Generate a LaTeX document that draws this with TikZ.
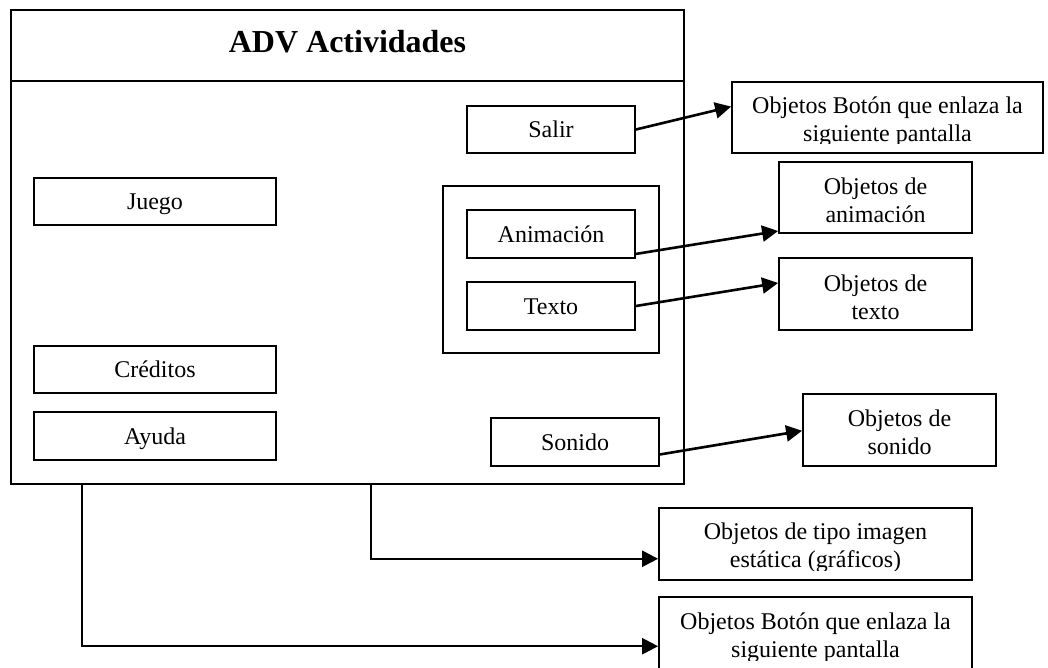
\documentclass[tikz,border=0pt]{standalone}
\usepackage{fontspec}
\setmainfont{Liberation Serif}
\usetikzlibrary{arrows.meta,calc}
\newcommand\boxfont{\fontsize{24pt}{27.6pt}\selectfont}
\newcommand\headfont{\fontsize{32pt}{36pt}\selectfont\bfseries}

\begin{document}
\begin{tikzpicture}[x=1pt,y=-1pt,
  frame/.style={draw, line width=1.8pt, inner sep=0pt},
  item/.style={frame, font=\boxfont, text height=16pt, text depth=0pt},
  lbl/.style={font=\boxfont, align=center, inner sep=0pt},
  link/.style={line width=2.6pt, -{Triangle[length=16pt,width=16pt]}},
  elbow/.style={line width=2.3pt, -{Triangle[length=16pt,width=16pt]}},
]
\useasboundingbox (0,0) rectangle (1048,667);

% screen with its title band
\node[frame, minimum width=673pt, minimum height=474pt] (screen) at (347.5,247) {};
\coordinate (band) at (0,81);
\draw[line width=1.8pt] (screen.west |- band) -- (screen.east |- band);
\node[font=\headfont, anchor=base, inner sep=0pt] (title) at (347.5,52) {ADV Actividades};

% elements on the screen
\node[item, minimum width=168pt, minimum height=47pt] (salir) at (551,129.5) {Salir};
\node[item, minimum width=242pt, minimum height=47pt] (juego) at (155,201.5) {Juego};
\node[item, minimum width=242pt, minimum height=47pt] (creditos) at (155,369.5) {Créditos};
\node[item, minimum width=242pt, minimum height=48pt] (ayuda) at (155,436) {Ayuda};
\node[frame, minimum width=216pt, minimum height=167pt] (grupo) at (551,269.5) {};
\node[item, minimum width=168pt, minimum height=48pt] (animacion) at (551,234) {Animación};
\node[item, minimum width=168pt, minimum height=48pt] (texto) at (551,306) {Texto};
\node[item, minimum width=168pt, minimum height=48pt] (sonido) at (575,442) {Sonido};

% object descriptions
\node[frame, minimum width=311pt, minimum height=71pt] (botonA) at (887.5,117.5) {};
\node[frame, minimum width=193pt, minimum height=71pt] (objAnim) at (875.5,197.5) {};
\node[frame, minimum width=193pt, minimum height=72pt] (objTexto) at (875.5,294) {};
\node[frame, minimum width=193pt, minimum height=72pt] (objSonido) at (899.5,430) {};
\node[frame, minimum width=313pt, minimum height=72pt] (objImagen) at (815.5,544) {};
\node[frame, minimum width=313pt, minimum height=73pt] (botonB) at (815.5,633.5) {};

\begin{scope}
  \clip (botonA.north west) rectangle ([yshift=10pt]botonA.south east);
  \node[lbl] (botonAtext) at ([yshift=-4pt]botonA.center) {Objetos Botón que enlaza la\\siguiente pantalla};
\end{scope}
\node[lbl] (objAnimText) at ([yshift=-3pt]objAnim.center) {Objetos de\\animación};
\node[lbl] (objTextoText) at ([yshift=-3pt]objTexto.center) {Objetos de\\texto};
\node[lbl] (objSonidoText) at ([yshift=-2pt]objSonido.center) {Objetos de\\sonido};
\begin{scope}
  \clip (objImagen.north west) rectangle ([yshift=10pt]objImagen.south east);
  \node[lbl] (objImagenText) at ([yshift=-4pt]objImagen.center) {Objetos de tipo imagen\\estática (gráficos)};
\end{scope}
\begin{scope}
  \clip (botonB.north west) rectangle ([yshift=10pt]botonB.south east);
  \node[lbl] (botonBtext) at ([yshift=-4pt]botonB.center) {Objetos Botón que enlaza la\\siguiente pantalla};
\end{scope}

% connectors
\draw[link] (salir.east) -- ($(botonA.north west)!0.35!(botonA.south west)$);
\draw[link] ($(animacion.north east)!0.9!(animacion.south east)$) -- ($(objAnim.north west)!0.96!(objAnim.south west)$);
\draw[link] (texto.east) -- ($(objTexto.north west)!0.35!(objTexto.south west)$);
\draw[link] ($(sonido.north east)!0.75!(sonido.south east)$) -- ($(objSonido.north west)!0.51!(objSonido.south west)$);
\draw[elbow] ($(screen.south west)!0.535!(screen.south east)$) |- ($(objImagen.north west)!0.7!(objImagen.south west)$);
\draw[elbow] ($(screen.south west)!0.107!(screen.south east)$) |- ($(botonB.north west)!0.67!(botonB.south west)$);
\end{tikzpicture}
\end{document}
